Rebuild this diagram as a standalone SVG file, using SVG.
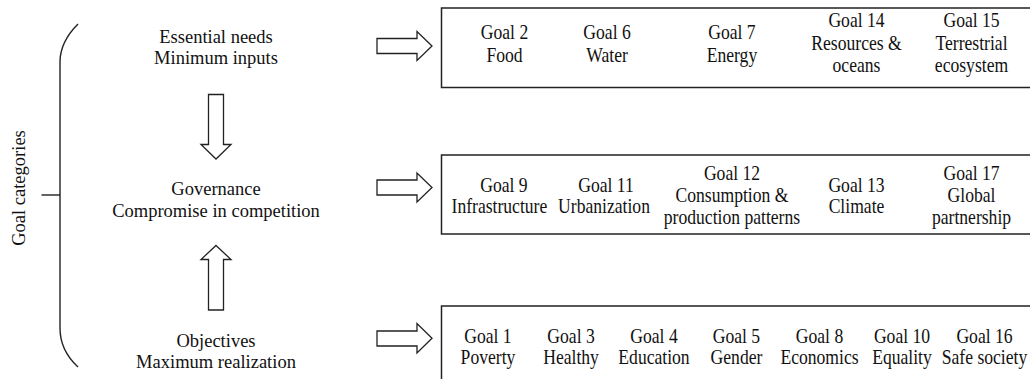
<svg xmlns="http://www.w3.org/2000/svg" width="1030" height="379" viewBox="0 0 1030 379">
<style>
text{font-family:"Liberation Serif","Times New Roman",serif;font-size:18.5px;fill:#111;text-anchor:middle}
.bt text{font-size:20px}
.box{fill:none;stroke:#222;stroke-width:1.5}
.arr{fill:#fff;stroke:#222;stroke-width:1.3;stroke-linejoin:miter}
.br{fill:none;stroke:#222;stroke-width:1.4}
</style>
<rect width="1030" height="379" fill="#fff"/>
<g id="bracket">
<path class="br" d="M78,24 C66,36 60,48 60,62 L60,328 C60,344 66,356 78,367"/>
<line class="br" x1="41.5" y1="195" x2="60" y2="195"/>
<text transform="translate(25,188) rotate(-90)">Goal categories</text>
</g>
<g id="essential">
<text x="216" y="43">Essential needs</text>
<text x="216" y="64">Minimum inputs</text>
</g>
<g id="governance">
<text x="216" y="195">Governance</text>
<text x="216" y="217">Compromise in competition</text>
</g>
<g id="objectives">
<text x="216" y="346.5">Objectives</text>
<text x="216" y="367.5">Maximum realization</text>
</g>
<g id="connectors">
<path class="arr" d="M208.5,94.5 H223.5 V144.5 H231 L216,159 L201,144.5 H208.5 Z"/>
<path class="arr" d="M216,245.5 L231,259.5 H223.5 V310 H208.5 V259.5 H201 Z"/>
<path class="arr" d="M377,38.5 H417 V31.5 L432,46 L417,60.5 V53.5 H377 Z"/>
<path class="arr" d="M377,180 H417 V173 L432,187.5 L417,202 V195 H377 Z"/>
<path class="arr" d="M377,331 H417 V323.5 L432,338.3 L417,353 V346 H377 Z"/>
</g>
<g id="box-essential">
<rect class="box" x="441.5" y="8" width="600" height="79.5"/>
<g class="bt" transform="scale(0.88,1)">
<text x="573.3" y="39.5">Goal 2</text><text x="573.3" y="62">Food</text>
<text x="689.8" y="39.5">Goal 6</text><text x="689.8" y="62">Water</text>
<text x="831.8" y="39.5">Goal 7</text><text x="831.8" y="62">Energy</text>
<text x="973.3" y="27.5">Goal 14</text><text x="973.3" y="50">Resources &amp;</text><text x="973.3" y="72.5">oceans</text>
<text x="1104" y="27.5">Goal 15</text><text x="1104" y="50">Terrestrial</text><text x="1104" y="72.5">ecosystem</text>
</g>
</g>
<g id="box-governance">
<rect class="box" x="441.5" y="155" width="600" height="79"/>
<g class="bt" transform="scale(0.88,1)">
<text x="572.7" y="191.7">Goal 9</text><text x="567.5" y="213.5">Infrastructure</text>
<text x="688.6" y="191.7">Goal 11</text><text x="686.4" y="213.5">Urbanization</text>
<text x="831.8" y="180">Goal 12</text><text x="831.8" y="202">Consumption &amp;</text><text x="831.8" y="224">production patterns</text>
<text x="973.3" y="191.7">Goal 13</text><text x="973.3" y="213.5">Climate</text>
<text x="1104" y="180">Goal 17</text><text x="1104" y="202">Global</text><text x="1104" y="224">partnership</text>
</g>
</g>
<g id="box-objectives">
<rect class="box" x="441.5" y="306" width="600" height="90"/>
<g class="bt" transform="scale(0.88,1)">
<text x="554.5" y="343.5">Goal 1</text><text x="554.5" y="364">Poverty</text>
<text x="648.9" y="343.5">Goal 3</text><text x="648.9" y="364">Healthy</text>
<text x="743.2" y="343.5">Goal 4</text><text x="743.2" y="364">Education</text>
<text x="836.9" y="343.5">Goal 5</text><text x="836.9" y="364">Gender</text>
<text x="931.25" y="343.5">Goal 8</text><text x="931.25" y="364">Economics</text>
<text x="1025" y="343.5">Goal 10</text><text x="1025" y="364">Equality</text>
<text x="1118.75" y="343.5">Goal 16</text><text x="1118.75" y="364">Safe society</text>
</g>
</g>
</svg>
